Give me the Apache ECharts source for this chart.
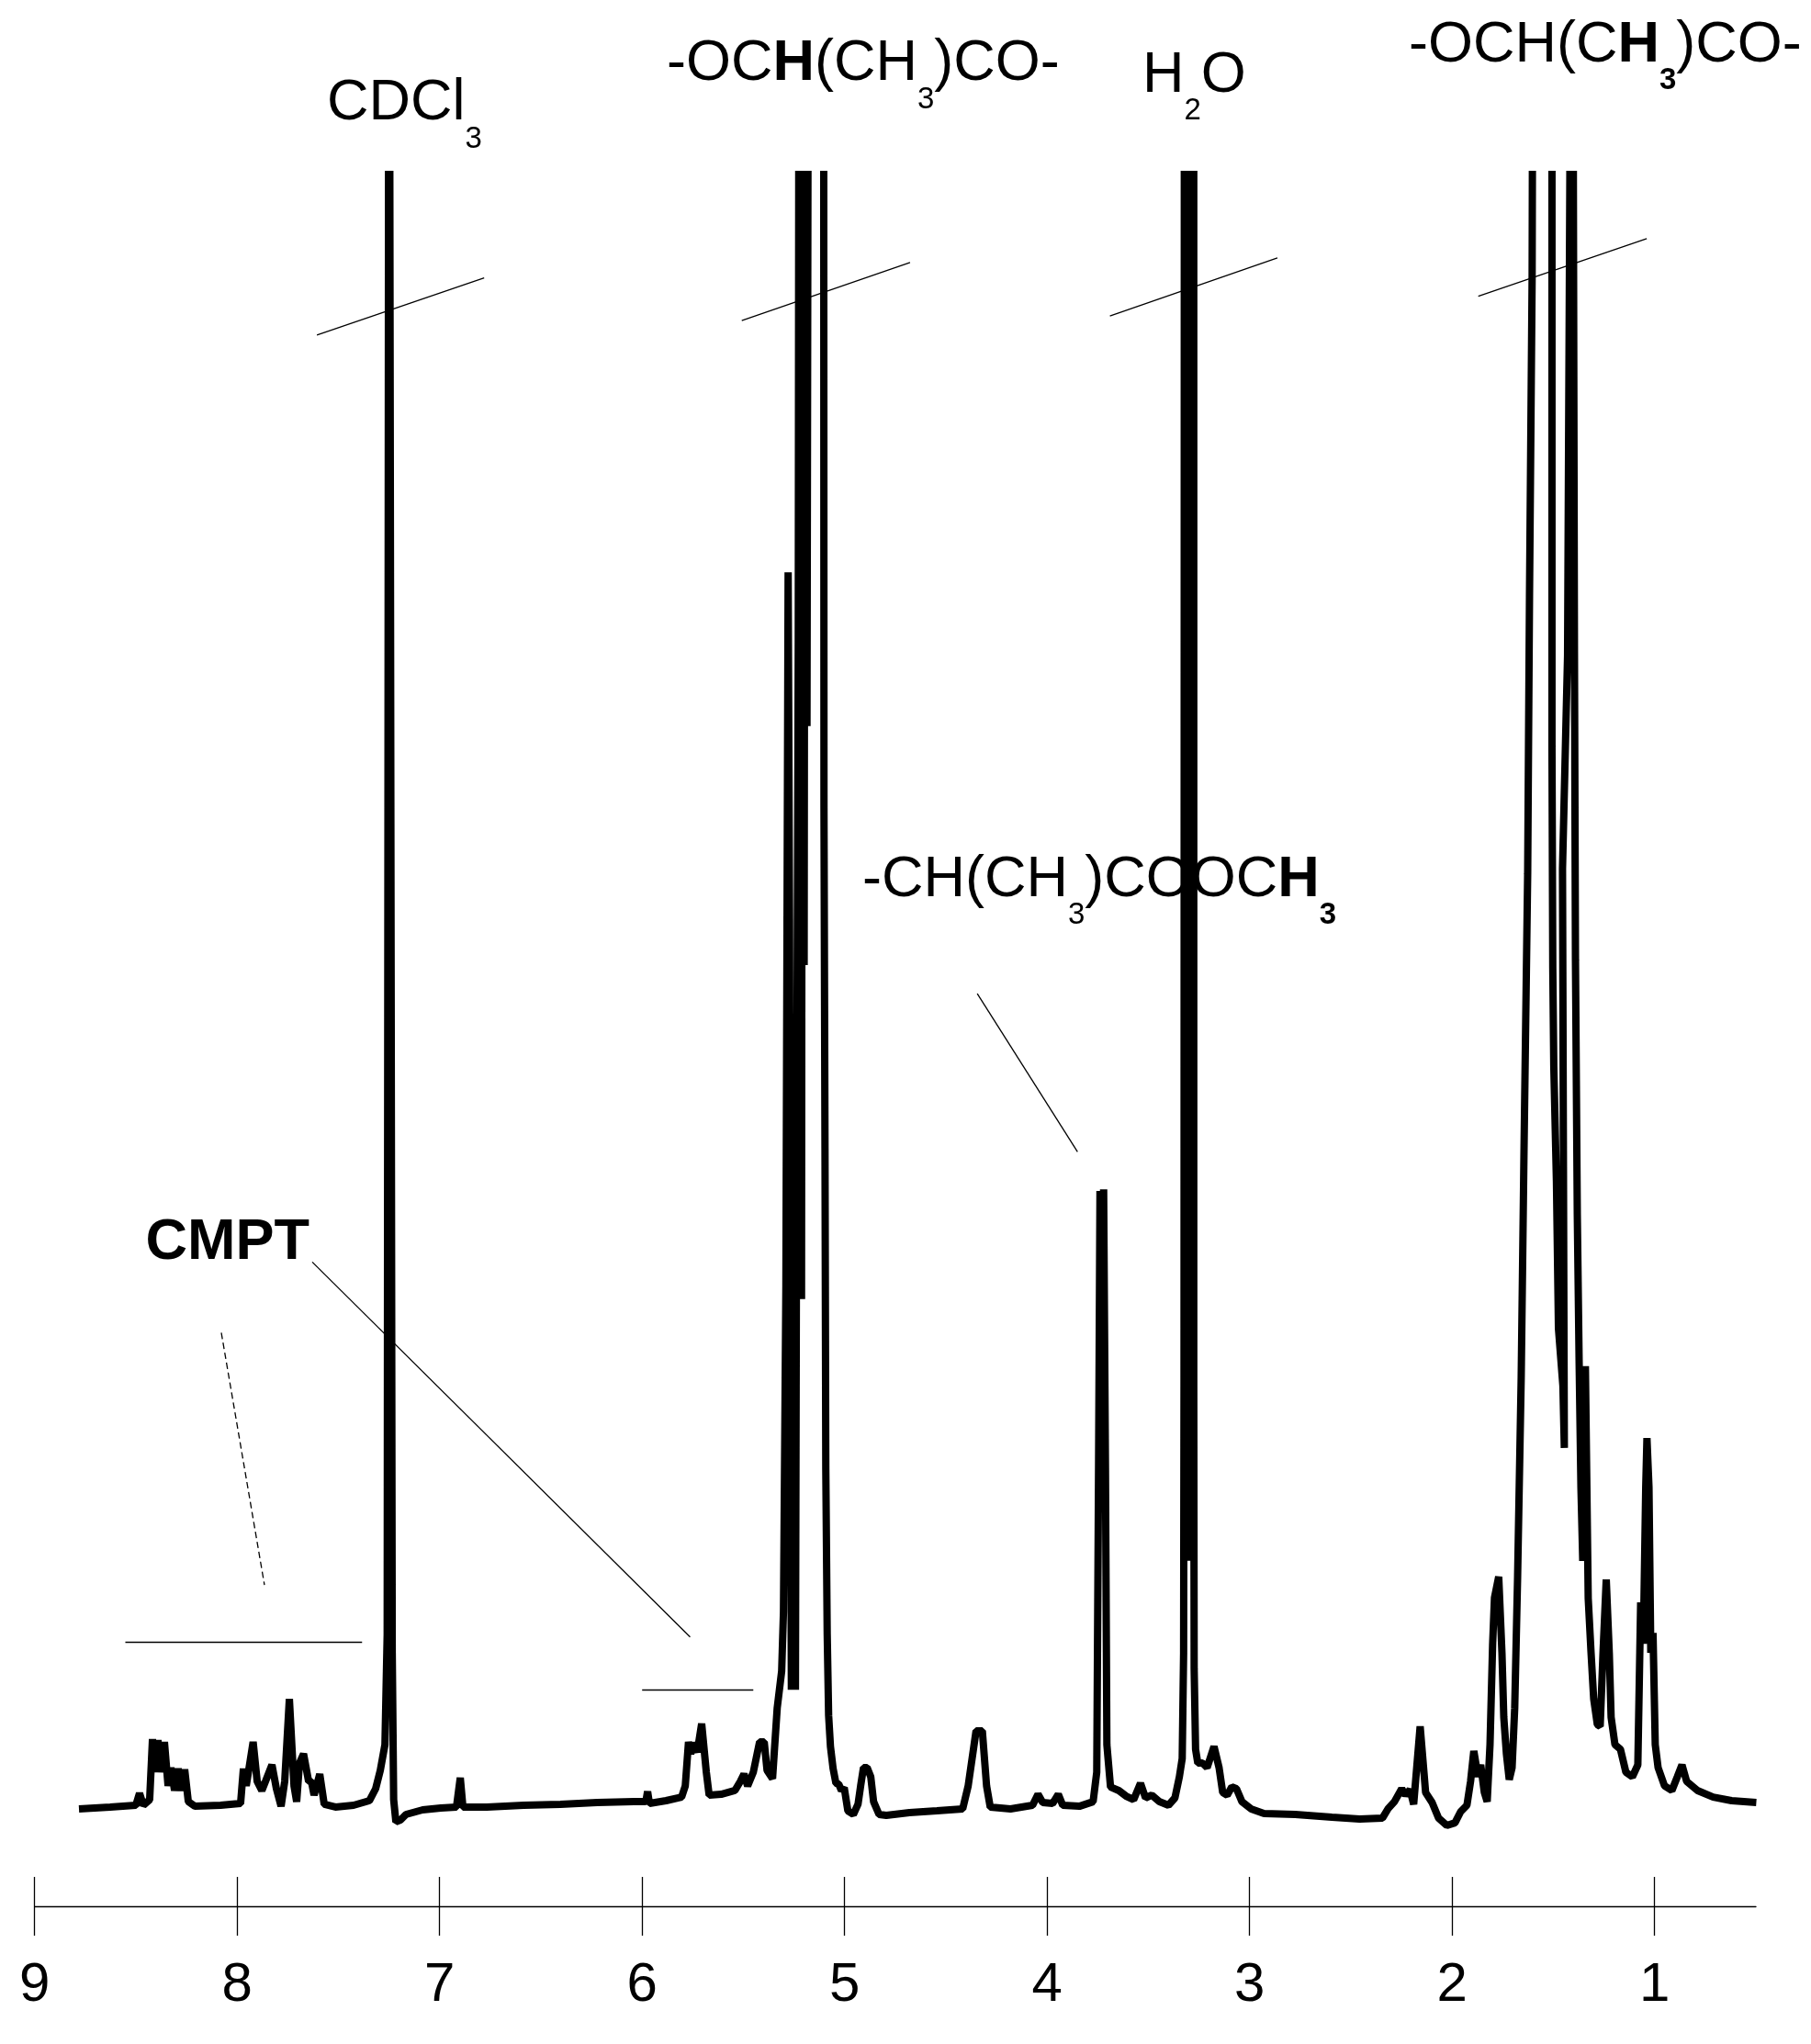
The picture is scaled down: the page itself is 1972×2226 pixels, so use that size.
<!DOCTYPE html>
<html>
<head>
<meta charset="utf-8">
<title>1H NMR spectrum</title>
<script src="https://cdn.jsdelivr.net/npm/echarts@6.0.0/dist/echarts.min.js"></script>
<style>
  html, body { margin: 0; padding: 0; background: #fff; }
  #chart { width: 1972px; height: 2226px; }
</style>
</head>
<body>
<div id="chart"></div>
<script>
// [chemical shift (ppm), intensity], left to right.
// 130 means the signal runs off the top of the plot (clipped).
const aromatic = [
  [8.781,0.15],[8.627,0.26],[8.500,0.37],[8.482,1.10],[8.463,0.37],[8.432,0.71],[8.418,4.41],[8.404,2.39],
  [8.391,4.35],[8.377,2.39],[8.359,4.24],[8.341,1.55],[8.327,2.67],[8.309,1.27],[8.291,2.61],[8.273,1.27],
  [8.259,2.56],[8.241,0.59],[8.209,0.31],[8.082,0.37],[7.983,0.48],[7.969,2.61],[7.955,1.55],[7.921,4.24],
  [7.901,1.83],[7.878,1.27],[7.860,1.83],[7.828,2.84],[7.806,1.38],[7.783,0.31],[7.765,1.83],[7.742,6.87],
  [7.719,1.55],[7.706,0.59],[7.692,2.95],[7.672,3.51],[7.647,1.83],[7.633,1.83],[7.620,0.99],[7.592,2.28],
  [7.570,0.43],[7.515,0.26],[7.425,0.37],[7.347,0.65]
]
const solvent = [
  [7.316,1.38],[7.293,2.50],[7.270,4.07],[7.259,10.8],[7.250,130],[7.241,130],[7.234,9.68],[7.227,0.71],
  [7.216,-0.64],[7.193,-0.53],[7.166,-0.19],[7.084,0.09],[6.994,0.20],[6.917,0.26],[6.898,2.05],[6.885,0.26],
  [6.767,0.26],[6.585,0.37],[6.404,0.43],[6.222,0.54],[6.041,0.59],[5.982,0.59],[5.973,1.21],[5.964,0.48],
  [5.882,0.65],[5.805,0.87],[5.787,1.55]
]
const endGroup = [
  [5.771,4.24],[5.760,3.50],[5.748,4.18],[5.728,3.62],[5.706,5.36],[5.683,2.39],[5.669,0.99],[5.610,1.04],
  [5.542,1.27],[5.515,1.83],[5.497,2.28],[5.479,1.55],[5.451,2.39],[5.420,4.24],[5.397,4.24],[5.383,2.50],
  [5.356,2.00]
]
const methine = [
  [5.333,6.31],[5.311,8.56],[5.302,12.2],[5.290,32.1],[5.279,75.7],[5.272,54.5],[5.268,26.5],[5.263,7.43],
  [5.252,23.4],[5.243,7.43],[5.236,44.1],[5.229,71.4],[5.224,130],[5.213,31.3],[5.206,130],[5.200,51.7],
  [5.193,130],[5.186,66.3],[5.177,130],[5.104,130],[5.102,61.3],[5.097,40.5],[5.093,20.9],[5.086,10.8],
  [5.079,5.86],[5.070,3.96],[5.057,2.61],[5.043,1.72],[5.029,1.66],[5.016,1.27],[5.002,1.44],[4.984,0.03],
  [4.957,-0.19],[4.934,0.43],[4.921,1.55],[4.907,2.67],[4.889,2.67],[4.871,2.11],[4.857,0.59],[4.830,-0.19],
  [4.794,-0.25]
]
const ester = [
  [4.680,-0.08],[4.544,0.03],[4.417,0.15],[4.390,1.55],[4.351,4.91],[4.320,4.91],[4.299,1.55],[4.281,0.26],
  [4.181,0.15],[4.072,0.37],[4.045,1.04],[4.022,0.54],[3.973,0.48],[3.945,1.04],[3.923,0.37],[3.841,0.31],
  [3.773,0.59],[3.755,2.39],[3.746,20.9],[3.739,37.9],[3.730,26.5],[3.721,38.0],[3.712,20.9],[3.705,4.07],
  [3.687,1.49],[3.646,1.27],[3.610,0.93],[3.573,0.71],[3.539,1.72],[3.514,0.82],[3.483,0.99],[3.446,0.59],
  [3.401,0.37],[3.369,0.82]
]
const water = [
  [3.347,2.11],[3.333,3.23],[3.326,9.68],[3.324,26.5],[3.322,130],[3.300,130],[3.299,15.3],[3.298,130],
  [3.276,130],[3.276,26.5],[3.274,8.72],[3.267,3.79],[3.256,2.95],[3.233,2.95],[3.210,2.67],[3.176,3.96],
  [3.151,2.67],[3.133,1.15],[3.111,0.99],[3.088,1.49],[3.065,1.38],[3.038,0.59],[2.993,0.15],[2.929,-0.13]
]
const aliphatic = [
  [2.775,-0.19],[2.594,-0.36],[2.457,-0.47],[2.344,-0.41],[2.317,0.15],[2.285,0.59],[2.249,1.38],[2.231,0.99],
  [2.208,1.32],[2.190,0.43],[2.158,5.19],[2.131,1.15],[2.099,0.54],[2.067,-0.41],[2.026,-0.86],[1.986,-0.70],
  [1.958,-0.02],[1.927,0.37],[1.909,1.83],[1.893,3.68],[1.872,2.11],[1.859,2.84],[1.841,1.15],[1.827,0.59],
  [1.813,4.07],[1.800,10.24],[1.791,13.04],[1.770,14.33],[1.754,9.68],[1.745,5.75],[1.732,3.51],[1.718,1.94],
  [1.704,2.67],[1.691,6.31],[1.677,14.16],[1.659,26.5],[1.645,40.5],[1.636,48.9],[1.627,57.3],[1.618,74.2],
  [1.605,93.8],[1.598,130]
]
const methyl = [
  [1.507,130],[1.507,65.1],[1.503,51.5],[1.498,45.5],[1.485,38.5],[1.475,29.5],[1.453,26.0],[1.446,22.2],
  [1.455,57.6],[1.430,70.6],[1.407,130],[1.401,130],[1.396,70.8],[1.391,52.0],[1.382,36.5],[1.373,27.5],
  [1.364,19.8],[1.355,15.3],[1.342,27.2],[1.328,13.0],[1.314,9.68],[1.301,6.87],[1.283,5.30],[1.269,5.19],
  [1.255,9.68],[1.239,14.16],[1.224,9.68],[1.215,5.75],[1.196,4.07],[1.169,3.79],[1.142,2.39],[1.110,2.11],
  [1.083,2.84],[1.069,12.76],[1.056,10.24],[1.044,19.8],[1.038,22.8],[1.028,19.8],[1.019,9.68],[1.008,10.9],
  [0.997,4.07],[0.983,2.67],[0.951,1.55],[0.915,1.27],[0.888,2.11],[0.865,2.84],[0.842,1.83],[0.788,1.27],
  [0.711,0.87],[0.620,0.65],[0.498,0.54]
]

const tickValues = [9, 8, 7, 6, 5, 4, 3, 2, 1]

// integral break marks crossing the big peaks
const breakMarks = [
  [[7.606,90.19],[6.780,93.68]],
  [[5.508,91.07],[4.677,94.62]],
  [[3.690,91.35],[2.863,94.90]],
  [[1.871,92.56],[1.039,96.08]]
]
// leader lines for the assignments
const leaders = [
  [[7.629,33.56],[5.763,10.65]],
  [[8.552,10.33],[7.383,10.33]],
  [[6.000,7.42],[5.451,7.42]],
  [[4.345,49.95],[3.850,40.29]]
]
const dashedLeaders = [
  [[8.078,29.24],[7.865,13.83]]
]

const FONT = 'Liberation Sans'
const spectrum = [].concat(aromatic, solvent, endGroup, methine, ester, water, aliphatic, methyl)

const chart = echarts.init(document.getElementById('chart'), null, { renderer: 'canvas' })

const gridBox = { left: 37.7, right: 60, top: 190, bottom: 150, outerBoundsMode: 'none' }
const xBase = { type: 'value', min: 0.5, max: 9, inverse: true, splitLine: { show: false } }
const yBase = { type: 'value', min: -5.8, max: 100, show: false }

const richBase = {
  n: { fontSize: 63, fontFamily: FONT, fill: '#000', verticalAlign: 'top' },
  b: { fontSize: 63, fontFamily: FONT, fontWeight: 'bold', fill: '#000', verticalAlign: 'top' },
  s: { fontSize: 33, fontFamily: FONT, fill: '#000', verticalAlign: 'top', padding: [54, 0, 0, 0] },
  sb: { fontSize: 33, fontFamily: FONT, fontWeight: 'bold', fill: '#000', verticalAlign: 'top', padding: [54, 0, 0, 0] }
}
const label = (text, x, y) => ({
  type: 'text', x: x, y: y, z: 10, silent: true,
  style: { text: text, rich: richBase, fill: '#000', fontSize: 63, fontFamily: FONT, align: 'left', verticalAlign: 'top' }
})

const toLine = (pair, style) => {
  const a = { coord: pair[0] }
  if (style) a.lineStyle = style
  return [a, { coord: pair[1] }]
}

const option = {
  backgroundColor: '#fff',
  animation: false,
  textStyle: { fontFamily: FONT },
  grid: [gridBox, Object.assign({}, gridBox)],
  xAxis: [
    Object.assign({}, xBase, {
      gridIndex: 0,
      axisLine: { show: true, onZero: false, lineStyle: { color: '#000', width: 1.3 } },
      axisTick: { show: true, inside: false, length: 32, customValues: tickValues, lineStyle: { color: '#000', width: 1.3 } },
      axisLabel: { show: true, customValues: tickValues, margin: 56, fontSize: 60, lineHeight: 60, color: '#000', fontFamily: FONT }
    }),
    Object.assign({}, xBase, {
      gridIndex: 1,
      axisLine: { show: false, onZero: false },
      axisTick: { show: true, inside: true, length: 32, customValues: tickValues, lineStyle: { color: '#000', width: 1.3 } },
      axisLabel: { show: false }
    })
  ],
  yAxis: [Object.assign({ gridIndex: 0 }, yBase), Object.assign({ gridIndex: 1 }, yBase)],
  series: [{
    type: 'line',
    xAxisIndex: 0,
    yAxisIndex: 0,
    data: spectrum,
    showSymbol: false,
    symbol: 'none',
    clip: true,
    silent: true,
    lineStyle: { color: '#000', width: 8 },
    markLine: {
      silent: true,
      symbol: ['none', 'none'],
      label: { show: false },
      emphasis: { disabled: true },
      lineStyle: { color: '#000', width: 1.3, type: 'solid' },
      data: breakMarks.map(p => toLine(p))
        .concat(leaders.map(p => toLine(p)))
        .concat(dashedLeaders.map(p => toLine(p, { type: [7, 4], width: 1.3, color: '#000' })))
    }
  }],
  graphic: [
    label('{n|CDCl}{s|3}', 356, 81.2),
    label('{n|-OC}{b|H}{n|(CH}{s|3}{n|)CO-}', 726, 38.4),
    label('{n|H}{s|2}{n|O}', 1244, 50.9),
    label('{n|-OCH(C}{b|H}{sb|3}{n|)CO-}', 1534, 17.9),
    label('{n|-CH(CH}{s|3}{n|)COOC}{b|H}{sb|3}', 939, 926.7),
    label('{b|CMPT}', 158.5, 1321.7)
  ]
}

chart.setOption(option)
</script>
</body>
</html>
